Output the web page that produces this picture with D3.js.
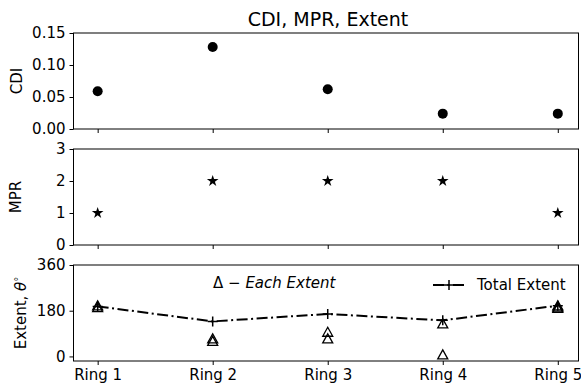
<!DOCTYPE html>
<html>
<head>
<meta charset="utf-8">
<script src="https://cdn.jsdelivr.net/npm/d3@7"></script>
<style>
  body { margin: 0; background: #fff; }
  text { font-family: "DejaVu Sans", sans-serif; fill: #000; }
  .axis path, .axis line { stroke: #000; stroke-width: 1; }
  .axis text { font-size: 15px; }
</style>
</head>
<body>
<div class="chart"></div>
<script>
const rings = ['Ring 1', 'Ring 2', 'Ring 3', 'Ring 4', 'Ring 5'];
const cdi = [0.059, 0.128, 0.062, 0.024, 0.024];
const mpr = [1, 2, 2, 2, 1];
const totalExtent = [197, 138, 167, 142, 200];
const eachExtent = [[200, 193], [70, 60], [96, 70], [129, 7], [200, 195, 190]];

const cdiTicks = [0, 0.05, 0.10, 0.15];
const mprTicks = [0, 1, 2, 3];
const extentTicks = [0, 180, 360];

const W = 581, H = 389;
const plotLeft = 73.5, plotRight = 578.5;
const panelH = 96, gap = 20, plotTop = 33;

const svg = d3.select('.chart')
  .append('svg')
  .attr('width', W)
  .attr('height', H);

const x = d3.scaleLinear()
  .domain([-0.21, 4.18])
  .range([plotLeft, plotRight]);

// one panel = box + left axis + bottom ticks
function panel(i, domain, ticks, fmt, label, labelX) {
  const y0 = plotTop + i * (panelH + gap);
  const y = d3.scaleLinear().domain(domain).range([y0 + panelH, y0]);

  svg.append('g')
    .attr('class', 'axis')
    .attr('transform', `translate(${plotLeft},0)`)
    .call(d3.axisLeft(y).tickValues(ticks).tickFormat(fmt).tickSize(4).tickPadding(4))
    .call(g => g.select('.domain').remove());

  svg.append('g')
    .attr('class', 'axis')
    .attr('transform', `translate(0,${y0 + panelH})`)
    .call(d3.axisBottom(x).tickValues(d3.range(rings.length))
      .tickFormat(i == 2 ? (d => rings[d]) : '').tickSize(4).tickPadding(4))
    .call(g => g.select('.domain').remove());

  svg.append('rect')
    .attr('x', plotLeft).attr('y', y0)
    .attr('width', plotRight - plotLeft).attr('height', panelH)
    .attr('fill', 'none').attr('stroke', '#000').attr('stroke-width', 1);

  const t = svg.append('text')
    .attr('transform', `translate(${labelX},${y0 + panelH / 2}) rotate(-90)`)
    .attr('text-anchor', 'middle')
    .attr('dy', '0.35em')
    .style('font-size', '15px');
  if (typeof label === 'string') t.text(label);
  else label(t);
  return y;
}

svg.append('text')
  .attr('x', 328)
  .attr('y', 26)
  .attr('text-anchor', 'middle')
  .style('font-size', '19px')
  .text('CDI, MPR, Extent');

// CDI
const y1 = panel(0, [0, 0.15], cdiTicks, d3.format('.2f'), 'CDI', 17);
svg.selectAll('.cdi')
  .data(cdi)
  .enter()
  .append('circle')
  .attr('cx', (d, i) => x(i))
  .attr('cy', d => y1(d))
  .attr('r', 5)
  .attr('fill', '#000');

// MPR
const y2 = panel(1, [0, 3], mprTicks, d3.format('d'), 'MPR', 16);
svg.selectAll('.mpr')
  .data(mpr)
  .enter()
  .append('path')
  .attr('transform', (d, i) => `translate(${x(i)},${y2(d)})`)
  .attr('d', d3.symbol(d3.symbolStar, 42))
  .attr('fill', '#000');

// Extent
const y3 = panel(2, [-18, 360], extentTicks, d3.format('d'), t => {
  t.append('tspan').text('Extent, ');
  t.append('tspan').style('font-style', 'italic').text('θ');
  t.append('tspan').attr('dy', '-0.45em').style('font-size', '10px').text('°');
}, 21);

const tri = 'M0,-4.8L5,4.2L-5,4.2Z';
const each = [];
eachExtent.forEach((arr, i) => arr.forEach(v => each.push({i: i, v: v})));

svg.selectAll('.each')
  .data(each)
  .enter()
  .append('path')
  .attr('transform', d => `translate(${x(d.i)},${y3(d.v)})`)
  .attr('d', tri)
  .attr('fill', 'none')
  .attr('stroke', '#000')
  .attr('stroke-width', 1.3);

svg.append('path')
  .datum(totalExtent)
  .attr('d', d3.line().x((d, i) => x(i)).y(d => y3(d)))
  .attr('fill', 'none')
  .attr('stroke', '#000')
  .attr('stroke-width', 2)
  .attr('stroke-dasharray', '11,3.5,2,3.5');

const plus = 'M-5,0H5M0,-5V5';
svg.selectAll('.total')
  .data(totalExtent)
  .enter()
  .append('path')
  .attr('transform', (d, i) => `translate(${x(i)},${y3(d)})`)
  .attr('d', plus)
  .attr('stroke', '#000')
  .attr('stroke-width', 1.5);

// annotation
const ann = svg.append('text')
  .attr('x', 213)
  .attr('y', 283)
  .attr('dy', '0.35em')
  .style('font-size', '15px');
ann.append('tspan').text('Δ − ');
ann.append('tspan').style('font-style', 'italic').text('Each Extent');

// legend
const ly = 285;
svg.append('line')
  .attr('x1', 433).attr('x2', 465)
  .attr('y1', ly).attr('y2', ly)
  .attr('stroke', '#000')
  .attr('stroke-width', 2)
  .attr('stroke-dasharray', '11,3.5,2,3.5');
svg.append('path')
  .attr('transform', `translate(449,${ly})`)
  .attr('d', plus)
  .attr('stroke', '#000')
  .attr('stroke-width', 1.5);
svg.append('text')
  .attr('x', 477)
  .attr('y', ly)
  .attr('dy', '0.35em')
  .style('font-size', '15px')
  .text('Total Extent');
</script>
</body>
</html>
